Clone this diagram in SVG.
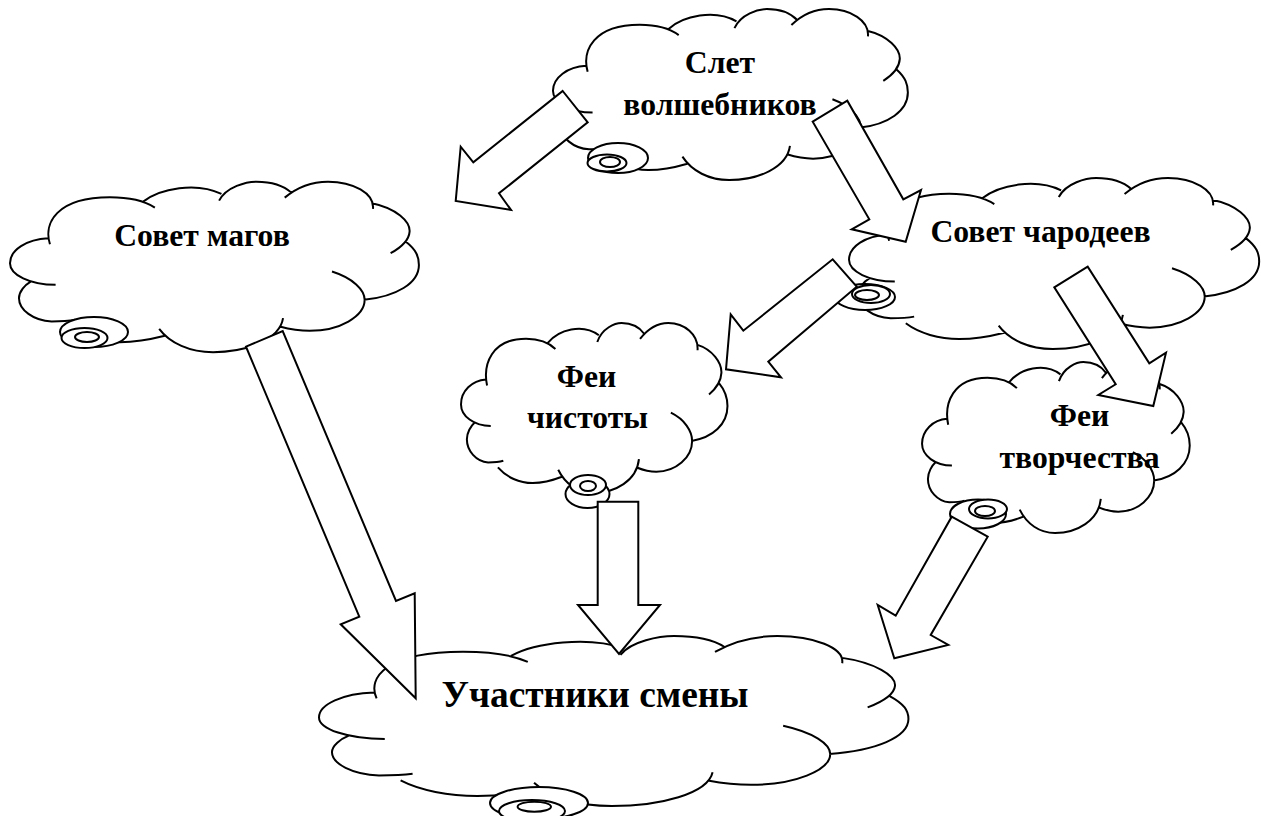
<svg xmlns="http://www.w3.org/2000/svg" xmlns:xlink="http://www.w3.org/1999/xlink" width="1261" height="816" viewBox="0 0 1261 816">
<style>
.c{fill:none;stroke:#000;stroke-width:2;vector-effect:non-scaling-stroke;stroke-linecap:butt}
.s ellipse{fill:#fff;stroke:#000;stroke-width:2}
.a polygon{fill:#fff;stroke:#000;stroke-width:2;stroke-linejoin:miter}
text{font-family:"Liberation Serif","Times New Roman",serif;font-weight:bold;font-size:31.7px;fill:#000;text-anchor:middle}
.big{font-size:37.4px}
</style>
<defs>
<path id="cloud" class="c" d="M150 283C130 220 170 142 330 142C380 142 430 150 465 173M430 155C480 115 590 95 665 132M658 152C680 110 740 95 770 95C810 95 850 105 875 128M855 143C900 105 950 95 985 95C1060 95 1125 130 1120 177M1117 160C1190 175 1232 215 1230 245C1228 275 1200 295 1173 310M1218 275C1250 300 1258 320 1258 345C1258 400 1190 440 1093 450M997 365C1060 385 1095 420 1095 450C1095 500 1020 543 930 543C900 543 870 538 840 530M850 505C840 570 740 607 640 607C570 607 510 580 478 537M495 558C440 572 400 577 360 577C300 577 240 560 200 530M225 510C210 513 180 515 155 515C100 512 57 480 57 445C57 425 75 405 92 395M167 405C90 405 30 375 30 340C30 300 80 268 145 265"/>
</defs>
<rect width="1261" height="816" fill="#fff"/>
<g id="node-slet">
<use xlink:href="#cloud" href="#cloud" transform="translate(544.3 -22.7) scale(.289 .334)"/>
<g class="s"><ellipse cx="618" cy="158" rx="30" ry="15"/><ellipse cx="607" cy="163" rx="19.5" ry="8.5"/><ellipse cx="610" cy="162" rx="10" ry="5"/></g>
<text x="720" y="73">Слет</text><text x="720" y="115">волшебников</text>
</g>
<g id="node-magi">
<use xlink:href="#cloud" href="#cloud" transform="translate(0 150) scale(.333 .333)"/>
<g class="s"><ellipse cx="94" cy="332" rx="34" ry="15"/><ellipse cx="84.5" cy="338" rx="23" ry="10"/><ellipse cx="87" cy="337" rx="12" ry="5"/></g>
<text x="202" y="246">Совет магов</text>
</g>
<g id="node-charodei">
<use xlink:href="#cloud" href="#cloud" transform="translate(839 146.3) scale(.334 .334)"/>
<g class="s"><ellipse cx="865" cy="297" rx="30" ry="13"/><ellipse cx="871" cy="294" rx="19" ry="9"/><ellipse cx="867" cy="295" rx="12" ry="5"/></g>
<text x="1040.500" y="241.700">Совет чародеев</text>
</g>
<g id="node-chistota">
<use xlink:href="#cloud" href="#cloud" transform="translate(454.5 291.5) scale(.217 .332)"/>
<g class="s"><ellipse cx="587.500" cy="494" rx="22" ry="14"/><ellipse cx="588" cy="485" rx="18" ry="10"/><ellipse cx="588" cy="486" rx="8" ry="5"/></g>
<text x="586.500" y="387">Феи</text><text x="587.500" y="428">чистоты</text>
</g>
<g id="node-tvorchestvo">
<use xlink:href="#cloud" href="#cloud" transform="translate(915.5 330.3) scale(.218 .334)"/>
<g class="s"><ellipse cx="978" cy="514" rx="28" ry="14.5"/><ellipse cx="988" cy="509" rx="19" ry="9.5"/><ellipse cx="985" cy="511" rx="10" ry="5"/></g>
<text x="1079.500" y="426">Феи</text><text x="1079.500" y="468">творчества</text>
</g>
<g id="node-uchastniki">
<use xlink:href="#cloud" href="#cloud" transform="translate(304.6 604.5) scale(.48 .332)"/>
<g class="s"><ellipse cx="539" cy="803" rx="49" ry="16"/><ellipse cx="532" cy="811" rx="33" ry="11"/><ellipse cx="534.300" cy="806.700" rx="16.700" ry="5"/></g>
<text class="big" x="595" y="707">Участники смены</text>
</g>
<g id="connectors" class="a">
<polygon points="562.700,91 587.700,122.300 499,193.300 511,210 455.700,201 460.700,146.700 473.300,162.300"/>
<polygon points="812.700,121.700 847.300,100.700 903.300,199.300 921,190 905.700,241.700 851.700,229.300 869.300,219.300"/>
<polygon points="832.700,259.300 856.700,286.700 768.300,361.700 781,377.300 726,369.300 730.700,314.300 743.300,330.700"/>
<polygon points="1087.700,266.700 1054.300,287.300 1115.700,384.300 1098.300,395 1153.300,406 1166,352.700 1149.300,363.300"/>
<polygon points="246,346.700 282.700,331 396,601 414.700,593.300 415.700,698.300 340.700,624.300 359.300,616.700"/>
<polygon points="597.700,501.700 638.300,501.700 638.300,605 660,605 619,654 578,605 597.700,605"/>
<polygon points="951.700,516.700 987.700,536.700 930.700,635 948.300,645 894.300,658.300 877.700,605 895.700,615.700"/>
</g>
</svg>
